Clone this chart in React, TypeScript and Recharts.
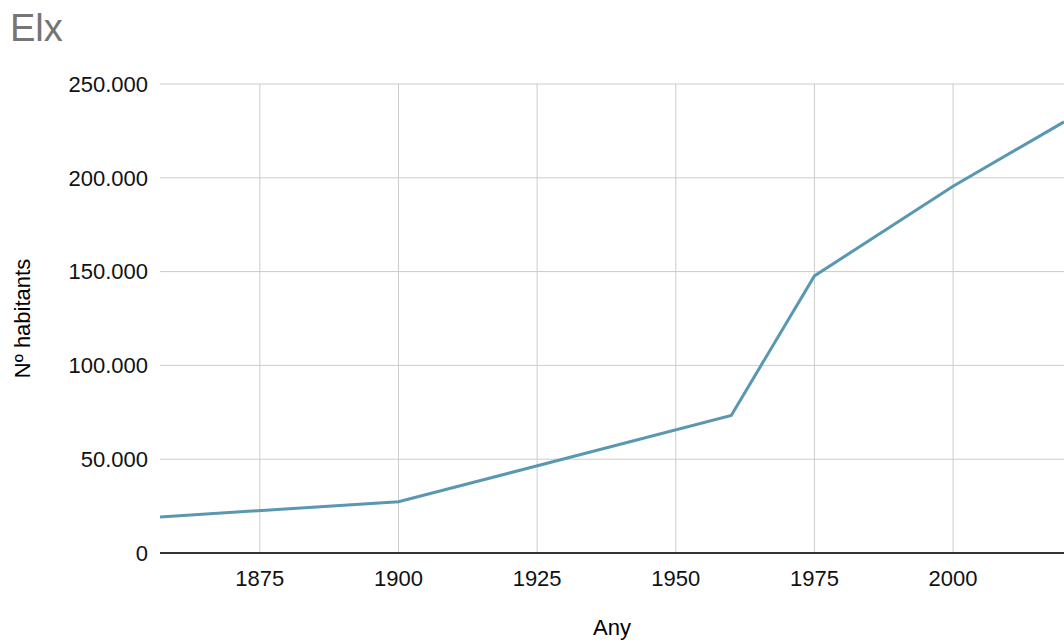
import { LineChart, Line, XAxis, YAxis, CartesianGrid, ReferenceLine } from "recharts";

const years = [1857, 1900, 1960, 1975, 2000, 2020];
const population = [19200, 27300, 73300, 147700, 195500, 229800];
const xTicks = [1875, 1900, 1925, 1950, 1975, 2000];
const yTicks = [0, 50000, 100000, 150000, 200000, 250000];

const data = years.map((year, i) => ({ year, value: population[i] }));

const FONT = '"Liberation Sans", Arial, sans-serif';

const formatThousands = (v: number) => String(v).replace(/\B(?=(\d{3})+(?!\d))/g, ".");

const YTitle = (props: any) => {
  const vb = props.viewBox || {};
  const cy = vb.y + vb.height / 2;
  return (
    <text
      x={22}
      y={cy}
      transform={`rotate(-90, 22, ${cy})`}
      textAnchor="middle"
      dominantBaseline="central"
      fontSize={22}
      fontFamily={FONT}
      fill="#000"
    >
      Nº habitants
    </text>
  );
};

export default function App() {
  return (
    <div style={{ position: "absolute", left: 0, top: 0, width: 1064, height: 642, background: "#fff", fontFamily: FONT }}>
      <div style={{ position: "absolute", left: 10, top: 9, fontSize: 38, lineHeight: 1, color: "#757575" }}>Elx</div>
      <LineChart width={1064} height={642} data={data} margin={{ top: 84, right: 0, left: 0, bottom: 0 }}>
        <CartesianGrid stroke="#cccccc" strokeWidth={1} vertical={false} />
        {xTicks.map((t) => (
          <ReferenceLine key={t} x={t} stroke="#cccccc" strokeWidth={1} />
        ))}
        <XAxis
          dataKey="year"
          type="number"
          domain={[1857, 2020]}
          ticks={xTicks}
          allowDataOverflow
          height={89}
          tickLine={false}
          axisLine={{ stroke: "#333", strokeWidth: 2 }}
          tickMargin={11}
          tick={{ fontSize: 22, fill: "#111", fontFamily: FONT }}
          label={{ value: "Any", position: "insideBottom", offset: 7, fontSize: 22, fill: "#000", fontFamily: FONT }}
        />
        <YAxis
          type="number"
          domain={[0, 250000]}
          ticks={yTicks}
          width={160}
          tickLine={false}
          axisLine={false}
          tickMargin={6}
          tickFormatter={formatThousands}
          tick={{ fontSize: 22, fill: "#111", fontFamily: FONT }}
          label={<YTitle />}
        />
        <Line
          type="linear"
          dataKey="value"
          stroke="#5a97b1"
          strokeWidth={3}
          dot={false}
          isAnimationActive={false}
        />
      </LineChart>
    </div>
  );
}
